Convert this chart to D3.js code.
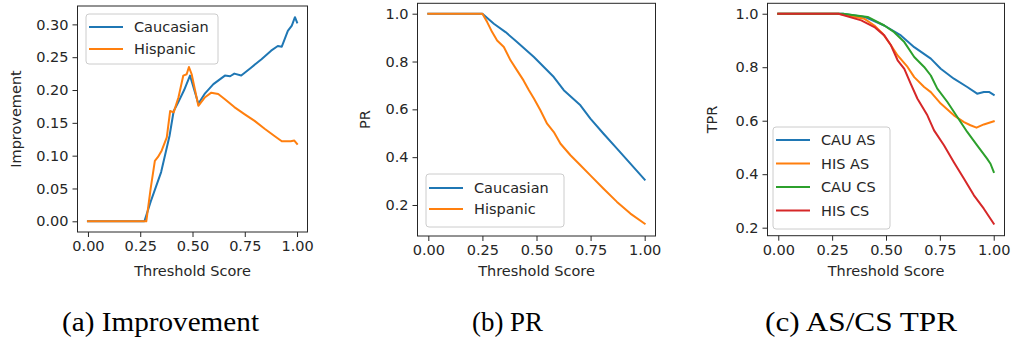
<!DOCTYPE html>
<html>
<head>
<meta charset="utf-8">
<script src="https://cdn.jsdelivr.net/npm/d3@7"></script>
<style>
  html, body { margin: 0; padding: 0; background: #fff; }
  svg { display: block; }
  text { font-family: "DejaVu Sans", sans-serif; fill: #262626; }
  .caption { font-family: "Liberation Serif", "Times New Roman", serif; fill: #000; }
</style>
</head>
<body>
<svg id="fig" width="1011" height="345"></svg>
<script>
// ---- data: [threshold, value] ----
const improvementCaucasian = [
  [0, 0], [0.27, 0], [0.30, 0.03], [0.35, 0.075], [0.39, 0.13], [0.41, 0.168],
  [0.43, 0.18], [0.46, 0.20], [0.488, 0.222], [0.528, 0.179], [0.56, 0.195],
  [0.60, 0.209], [0.655, 0.222], [0.68, 0.221], [0.70, 0.225], [0.733, 0.222],
  [0.78, 0.234], [0.83, 0.247], [0.876, 0.26], [0.908, 0.267], [0.927, 0.266],
  [0.956, 0.29], [0.975, 0.298], [0.99, 0.311], [1.0, 0.303]
];
const improvementHispanic = [
  [0, 0], [0.279, 0], [0.30, 0.05], [0.32, 0.092], [0.335, 0.098], [0.353, 0.108],
  [0.377, 0.128], [0.393, 0.168], [0.41, 0.166], [0.433, 0.189], [0.456, 0.222],
  [0.472, 0.224], [0.483, 0.235], [0.496, 0.224], [0.528, 0.176], [0.56, 0.189],
  [0.59, 0.196], [0.623, 0.194], [0.655, 0.186], [0.70, 0.174], [0.75, 0.163],
  [0.797, 0.153], [0.845, 0.141], [0.892, 0.13], [0.927, 0.122], [0.97, 0.122],
  [0.987, 0.123], [1.0, 0.118]
];
const prCaucasian = [
  [0, 1.0], [0.25, 1.0], [0.303, 0.958], [0.357, 0.923], [0.41, 0.882],
  [0.488, 0.819], [0.58, 0.735], [0.626, 0.68], [0.703, 0.617], [0.749, 0.561],
  [0.81, 0.498], [0.872, 0.436], [0.934, 0.373], [1.0, 0.306]
];
const prHispanic = [
  [0, 1.0], [0.25, 1.0], [0.272, 0.965], [0.295, 0.923], [0.318, 0.888],
  [0.349, 0.861], [0.38, 0.805], [0.41, 0.763], [0.44, 0.721], [0.465, 0.68],
  [0.488, 0.645], [0.518, 0.596], [0.549, 0.54], [0.58, 0.505], [0.611, 0.456],
  [0.657, 0.408], [0.703, 0.366], [0.749, 0.324], [0.81, 0.268], [0.872, 0.213],
  [0.934, 0.164], [1.0, 0.122]
];
const tprCauAS = [
  [0, 1.0], [0.30, 1.0], [0.40, 0.988], [0.492, 0.956], [0.569, 0.919],
  [0.631, 0.875], [0.708, 0.832], [0.754, 0.794], [0.815, 0.757], [0.877, 0.726],
  [0.923, 0.701], [0.954, 0.707], [0.98, 0.707], [1.0, 0.697]
];
const tprHisAS = [
  [0, 1.0], [0.28, 1.0], [0.40, 0.981], [0.446, 0.956], [0.485, 0.925],
  [0.523, 0.882], [0.554, 0.844], [0.60, 0.801], [0.631, 0.763], [0.677, 0.726],
  [0.708, 0.707], [0.754, 0.664], [0.815, 0.62], [0.862, 0.595], [0.892, 0.583],
  [0.92, 0.574], [0.954, 0.586], [1.0, 0.598]
];
const tprCauCS = [
  [0, 1.0], [0.30, 1.0], [0.415, 0.988], [0.492, 0.956], [0.538, 0.931],
  [0.585, 0.894], [0.631, 0.838], [0.677, 0.801], [0.708, 0.769], [0.738, 0.72],
  [0.785, 0.67], [0.831, 0.614], [0.877, 0.558], [0.923, 0.508], [0.969, 0.458],
  [0.985, 0.439], [1.0, 0.408]
];
const tprHisCS = [
  [0, 1.0], [0.28, 1.0], [0.385, 0.975], [0.446, 0.95], [0.492, 0.919],
  [0.523, 0.882], [0.554, 0.826], [0.585, 0.794], [0.615, 0.738], [0.646, 0.682],
  [0.692, 0.62], [0.723, 0.564], [0.769, 0.508], [0.815, 0.445], [0.862, 0.383],
  [0.908, 0.321], [0.954, 0.271], [1.0, 0.215]
];

const xTicks = [0, 0.25, 0.5, 0.75, 1.0];
const improvementTicks = [0, 0.05, 0.10, 0.15, 0.20, 0.25, 0.30];
const rateTicks = [0.2, 0.4, 0.6, 0.8, 1.0];

const seriesNames = {
  a: ["Caucasian", "Hispanic"],
  b: ["Caucasian", "Hispanic"],
  c: ["CAU AS", "HIS AS", "CAU CS", "HIS CS"]
};
const captions = ["(a) Improvement", "(b) PR", "(c) AS/CS TPR"];
const colors = ["#1f77b4", "#ff7f0e", "#2ca02c", "#d62728"];

// ---- layout ----
const svg = d3.select("#fig");
const labelSize = "14.5px";

const panels = [
  {
    box: { left: 77.5, right: 307.5, top: 6, bottom: 232 },
    ylim: [-0.0163, 0.328], yTicks: improvementTicks, yFmt: d3.format(".2f"),
    ylabel: "Improvement", ylabelX: 16,
    series: [improvementCaucasian, improvementHispanic], names: seriesNames.a,
    legend: { x: 86, y: 14, w: 132, h: 50, rowY: [27, 49] },
    caption: { text: captions[0], x: 62, w: 197 }
  },
  {
    box: { left: 417.5, right: 655.5, top: 3.3, bottom: 236 },
    ylim: [0.0703, 1.0435], yTicks: rateTicks, yFmt: d3.format(".1f"),
    ylabel: "PR", ylabelX: 365,
    series: [prCaucasian, prHispanic], names: seriesNames.b,
    legend: { x: 426, y: 174, w: 138, h: 53, rowY: [188, 209] },
    caption: { text: captions[1], x: 472, w: 71 }
  },
  {
    box: { left: 767.5, right: 1004.5, top: 3.3, bottom: 235.7 },
    ylim: [0.17, 1.039], yTicks: rateTicks, yFmt: d3.format(".1f"),
    ylabel: "TPR", ylabelX: 712,
    series: [tprCauAS, tprHisAS, tprCauCS, tprHisCS], names: seriesNames.c,
    legend: { x: 773, y: 127, w: 117, h: 102, rowY: [140, 163.5, 187, 210.5] },
    caption: { text: captions[2], x: 765, w: 192 }
  }
];

panels.forEach(p => {
  const b = p.box;
  const x = d3.scaleLinear().domain([-0.05, 1.05]).range([b.left, b.right]);
  const y = d3.scaleLinear().domain(p.ylim).range([b.bottom, b.top]);
  const g = svg.append("g");

  // series lines
  const line = d3.line().x(d => x(d[0])).y(d => y(d[1]));
  p.series.forEach((s, i) => {
    g.append("path")
      .datum(s)
      .attr("d", line)
      .attr("fill", "none")
      .attr("stroke", colors[i])
      .attr("stroke-width", 2)
      .attr("stroke-linejoin", "round")
      .attr("stroke-linecap", "square");
  });

  // frame
  g.append("rect")
    .attr("x", b.left).attr("y", b.top)
    .attr("width", b.right - b.left).attr("height", b.bottom - b.top)
    .attr("fill", "none").attr("stroke", "#262626").attr("stroke-width", 1);

  // axes
  const xAxis = d3.axisBottom(x).tickValues(xTicks).tickFormat(d3.format(".2f"))
    .tickSize(5).tickPadding(4);
  const gx = g.append("g").attr("transform", `translate(0,${b.bottom})`).call(xAxis);
  const yAxis = d3.axisLeft(y).tickValues(p.yTicks).tickFormat(p.yFmt)
    .tickSize(5).tickPadding(4);
  const gy = g.append("g").attr("transform", `translate(${b.left},0)`).call(yAxis);
  [gx, gy].forEach(ax => {
    ax.select(".domain").remove();
    ax.selectAll(".tick line").attr("stroke", "#262626");
    ax.selectAll(".tick text")
      .style("font-family", "'DejaVu Sans', sans-serif")
      .style("font-size", labelSize)
      .attr("fill", "#262626");
  });

  // axis labels
  g.append("text")
    .attr("x", (b.left + b.right) / 2).attr("y", 276)
    .attr("text-anchor", "middle").style("font-size", labelSize)
    .text("Threshold Score");
  g.append("text")
    .attr("transform", `translate(${p.ylabelX},${(b.top + b.bottom) / 2}) rotate(-90)`)
    .attr("text-anchor", "middle").attr("dominant-baseline", "central")
    .style("font-size", labelSize)
    .text(p.ylabel);

  // legend
  const L = p.legend;
  g.append("rect")
    .attr("x", L.x).attr("y", L.y).attr("width", L.w).attr("height", L.h)
    .attr("rx", 3).attr("fill", "#fff").attr("fill-opacity", 0.8)
    .attr("stroke", "#cccccc").attr("stroke-width", 1);
  p.names.forEach((name, i) => {
    g.append("line")
      .attr("x1", L.x + 3).attr("x2", L.x + 37)
      .attr("y1", L.rowY[i]).attr("y2", L.rowY[i])
      .attr("stroke", colors[i]).attr("stroke-width", 2);
    g.append("text")
      .attr("x", L.x + 48).attr("y", L.rowY[i])
      .attr("dominant-baseline", "central")
      .style("font-size", "14.5px")
      .text(name);
  });

  // caption
  const C = p.caption;
  svg.append("text")
    .attr("class", "caption")
    .attr("x", C.x).attr("y", 331)
    .attr("textLength", C.w).attr("lengthAdjust", "spacingAndGlyphs")
    .style("font-size", "27px")
    .text(C.text);
});
</script>
</body>
</html>
